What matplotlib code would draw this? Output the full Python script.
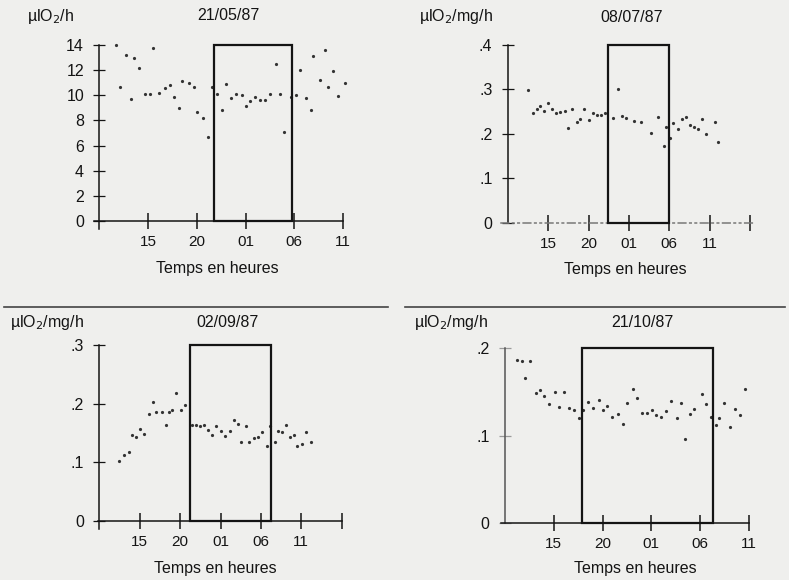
import numpy as np
import matplotlib.pyplot as plt
from matplotlib.patches import Rectangle

plt.rcParams['font.family'] = ['Liberation Sans', 'DejaVu Sans']

# heures cumulées depuis minuit du premier jour (25 = 01h le lendemain)
TICK_POS = [15, 20, 25, 30, 35, 40]
TICK_LAB = ["15", "20", "01", "06", "11", ""]

# 21/05/87 (µlO2/h)
t1 = [11.75, 12.1, 12.7, 13.2, 13.6, 14.1, 14.7, 15.2, 15.5, 16.1, 16.7, 17.2,
      17.7, 18.2, 18.5, 19.2, 19.7, 20.05, 20.6, 21.1, 21.6, 22.1, 22.6, 23.0,
      23.5, 24.0, 24.6, 25.05, 25.5, 26.0, 26.5, 27.0, 27.5, 28.1, 28.5, 28.9,
      29.7, 30.2, 30.6, 31.2, 31.7, 31.95, 32.6, 33.1, 33.5, 34.0, 34.5, 35.2]
v1 = [14.0, 10.7, 13.2, 9.7, 13.0, 12.15, 10.1, 10.1, 13.8, 10.2, 10.6, 10.8,
      9.9, 9.0, 11.1, 11.0, 10.7, 8.7, 8.2, 6.7, 10.7, 10.1, 8.8, 10.9,
      9.8, 10.1, 10.0, 9.15, 9.55, 9.9, 9.6, 9.6, 10.1, 12.5, 10.1, 7.1,
      9.9, 10.05, 12.0, 9.8, 8.8, 13.1, 11.2, 13.6, 10.7, 11.9, 9.95, 11.0]

# 08/07/87 (µlO2/mg/h)
t2 = [12.5, 13.1, 13.6, 14.05, 14.5, 15.0, 15.5, 16.0, 16.5, 17.1, 17.5, 18.0,
      18.55, 19.0, 19.5, 20.0, 20.6, 21.1, 21.6, 22.1, 23.0, 23.6, 24.2, 24.7,
      25.6, 26.5, 27.7, 28.65, 29.35, 29.6, 30.05, 30.5, 31.1, 31.6, 32.1, 32.5,
      33.1, 33.6, 34.1, 34.6, 35.6, 36.0]
v2 = [0.299, 0.248, 0.257, 0.263, 0.252, 0.270, 0.257, 0.246, 0.250, 0.252, 0.214, 0.257,
      0.227, 0.233, 0.256, 0.231, 0.246, 0.242, 0.242, 0.246, 0.236, 0.301, 0.240, 0.235,
      0.230, 0.227, 0.201, 0.237, 0.173, 0.215, 0.190, 0.224, 0.210, 0.233, 0.239, 0.220,
      0.215, 0.210, 0.233, 0.200, 0.227, 0.182]

# 02/09/87
t3 = [12.45, 13.1, 13.7, 14.1, 14.5, 15.0, 15.5, 16.1, 16.6, 17.0, 17.7, 18.2,
      18.6, 19.0, 19.5, 20.1, 20.55, 21.5, 22.0, 22.5, 23.0, 23.5, 24.0, 24.5,
      25.1, 25.6, 26.2, 26.7, 27.2, 27.5, 28.1, 28.5, 29.1, 29.7, 30.1, 30.7,
      31.1, 31.7, 32.1, 32.6, 33.1, 33.6, 34.1, 34.5, 35.1, 35.6, 36.2]
v3 = [0.102, 0.113, 0.118, 0.147, 0.143, 0.156, 0.149, 0.182, 0.202, 0.186, 0.186, 0.164,
      0.185, 0.190, 0.219, 0.189, 0.198, 0.164, 0.164, 0.162, 0.164, 0.155, 0.147, 0.162,
      0.154, 0.145, 0.153, 0.172, 0.166, 0.134, 0.162, 0.134, 0.141, 0.144, 0.151, 0.127,
      0.162, 0.134, 0.154, 0.152, 0.164, 0.143, 0.147, 0.127, 0.131, 0.151, 0.134]

# 21/10/87
t4 = [11.2, 11.7, 12.1, 12.6, 13.15, 13.55, 14.0, 14.55, 15.15, 15.55, 16.05, 16.6,
      17.1, 17.6, 18.0, 18.55, 19.0, 19.6, 20.05, 20.5, 21.0, 21.6, 22.1, 22.5,
      23.1, 23.55, 24.1, 24.6, 25.1, 25.5, 26.05, 26.55, 27.0, 27.6, 28.1, 28.5,
      29.0, 29.4, 30.2, 30.65, 31.1, 31.6, 31.95, 32.5, 33.05, 33.55, 34.1, 34.6]
v4 = [0.187, 0.186, 0.166, 0.186, 0.149, 0.152, 0.145, 0.136, 0.150, 0.133, 0.150, 0.132,
      0.129, 0.120, 0.130, 0.139, 0.132, 0.141, 0.130, 0.134, 0.121, 0.125, 0.114, 0.138,
      0.154, 0.143, 0.126, 0.126, 0.130, 0.124, 0.121, 0.128, 0.140, 0.120, 0.138, 0.096,
      0.125, 0.131, 0.148, 0.136, 0.122, 0.112, 0.120, 0.137, 0.110, 0.131, 0.124, 0.153]

W, H = 789, 580
BG = '#efefed'
INK = '#141414'

fig = plt.figure(figsize=(W / 100, H / 100), dpi=100, facecolor=BG)


def make_axes(xlim, ylim, x0px, xscale, y0px, yscale):
    """Place axes so that data (0 on y, 10 h on x) lands on the given pixel."""
    left = x0px + (xlim[0] - 10) * xscale
    right = x0px + (xlim[1] - 10) * xscale
    bottom = y0px - ylim[0] * yscale
    top = y0px - ylim[1] * yscale
    ax = fig.add_axes([left / W, 1 - bottom / H, (right - left) / W, (bottom - top) / H])
    ax.set_xlim(*xlim)
    ax.set_ylim(*ylim)
    ax.patch.set_visible(False)
    for s in ['top', 'right']:
        ax.spines[s].set_visible(False)
    ax.spines['left'].set_position(('data', 10))
    ax.spines['bottom'].set_position(('data', 0))
    return ax


def panel(ax, t, v, yticks, ylabels, box, xend, title, unit, title_x, unit_x,
          label_y, xlab_x, xlab_y, ybounds, xbounds, dashed_x=False, faint_y=False):
    ax.plot(t, v, 'o', ms=2.3, color='#333333', mec='none')
    ax.add_patch(Rectangle((box[0], 0), box[1] - box[0], yticks[-1], fill=False,
                           lw=1.6, ec=INK, zorder=3))
    n = TICK_POS.index(xend) + 1
    ax.set_xticks(TICK_POS[:n])
    ax.set_xticklabels(TICK_LAB[:n], fontsize=11)
    ax.set_yticks(yticks)
    ax.set_yticklabels(ylabels, fontsize=11.5)
    ax.tick_params(axis='x', direction='inout', length=12, width=1.1, color=INK, pad=4)
    ycol = '#9a9a9a' if faint_y else INK
    ax.tick_params(axis='y', direction='inout', length=8, width=0.9, color=ycol, pad=7)
    ax.spines['left'].set_bounds(*ybounds)
    ax.spines['left'].set_color('#555555' if faint_y else INK)
    ax.spines['left'].set_linewidth(1.1)
    ax.spines['bottom'].set_bounds(*xbounds)
    ax.spines['bottom'].set_linewidth(1.1)
    if dashed_x:
        ax.spines['bottom'].set_linestyle((0, (5, 2.5, 1, 2.5, 1, 2.5)))
        ax.spines['bottom'].set_color('#777777')
    else:
        ax.spines['bottom'].set_color(INK)
    for lab in ax.get_xticklabels() + ax.get_yticklabels():
        lab.set_color(INK)
    fig.text(title_x / W, 1 - label_y / H, title, ha='center', va='center',
             fontsize=11.5, color=INK)
    fig.text(unit_x / W, 1 - label_y / H, unit, ha='left', va='center',
             fontsize=11.5, color=INK)
    fig.text(xlab_x / W, 1 - xlab_y / H, "Temps en heures", ha='center', va='center',
             fontsize=11.5, color=INK)


ax1 = make_axes((8.5, 36.5), (-1.5, 15), 99.3, 9.75, 221, 12.57)
panel(ax1, t1, v1, [0, 2, 4, 6, 8, 10, 12, 14],
      ["0", "2", "4", "6", "8", "10", "12", "14"],
      (21.75, 29.8), 35, "21/05/87", "µlO$_2$/h", 228, 27, 16, 217, 268,
      (-0.6, 14), (9.5, 35))

ax2 = make_axes((8.5, 41.5), (-0.04, 0.42), 507.7, 8.08, 222.7, 444.2)
panel(ax2, t2, v2, [0, 0.1, 0.2, 0.3, 0.4], ["0", ".1", ".2", ".3", ".4"],
      (22.4, 30.0), 40, "08/07/87", "µlO$_2$/mg/h", 632, 419, 17, 625, 270,
      (0, 0.4), (9.2, 40.3), dashed_x=True)

ax3 = make_axes((8.5, 41.5), (-0.03, 0.32), 99.3, 8.08, 521, 586.7)
panel(ax3, t3, v3, [0, 0.1, 0.2, 0.3], ["0", ".1", ".2", ".3"],
      (21.2, 31.2), 40, "02/09/87", "µlO$_2$/mg/h", 228, 10, 323, 215, 569,
      (-0.014, 0.3), (9.8, 40))

ax4 = make_axes((8.5, 36.5), (-0.02, 0.21), 505, 9.75, 523.3, 875)
panel(ax4, t4, v4, [0, 0.1, 0.2], ["0", ".1", ".2"],
      (17.85, 31.35), 35, "21/10/87", "µlO$_2$/mg/h", 642, 414, 323, 635, 569,
      (0, 0.2), (9.6, 35), faint_y=True)

# trait de séparation entre les deux rangées
fig.add_artist(plt.Line2D([0.005, 388 / W], [1 - 307 / H] * 2, color='#444444', lw=1.2))
fig.add_artist(plt.Line2D([405 / W, 0.995], [1 - 307 / H] * 2, color='#444444', lw=1.2))

fig.savefig('out.png', dpi=100, facecolor=BG)
